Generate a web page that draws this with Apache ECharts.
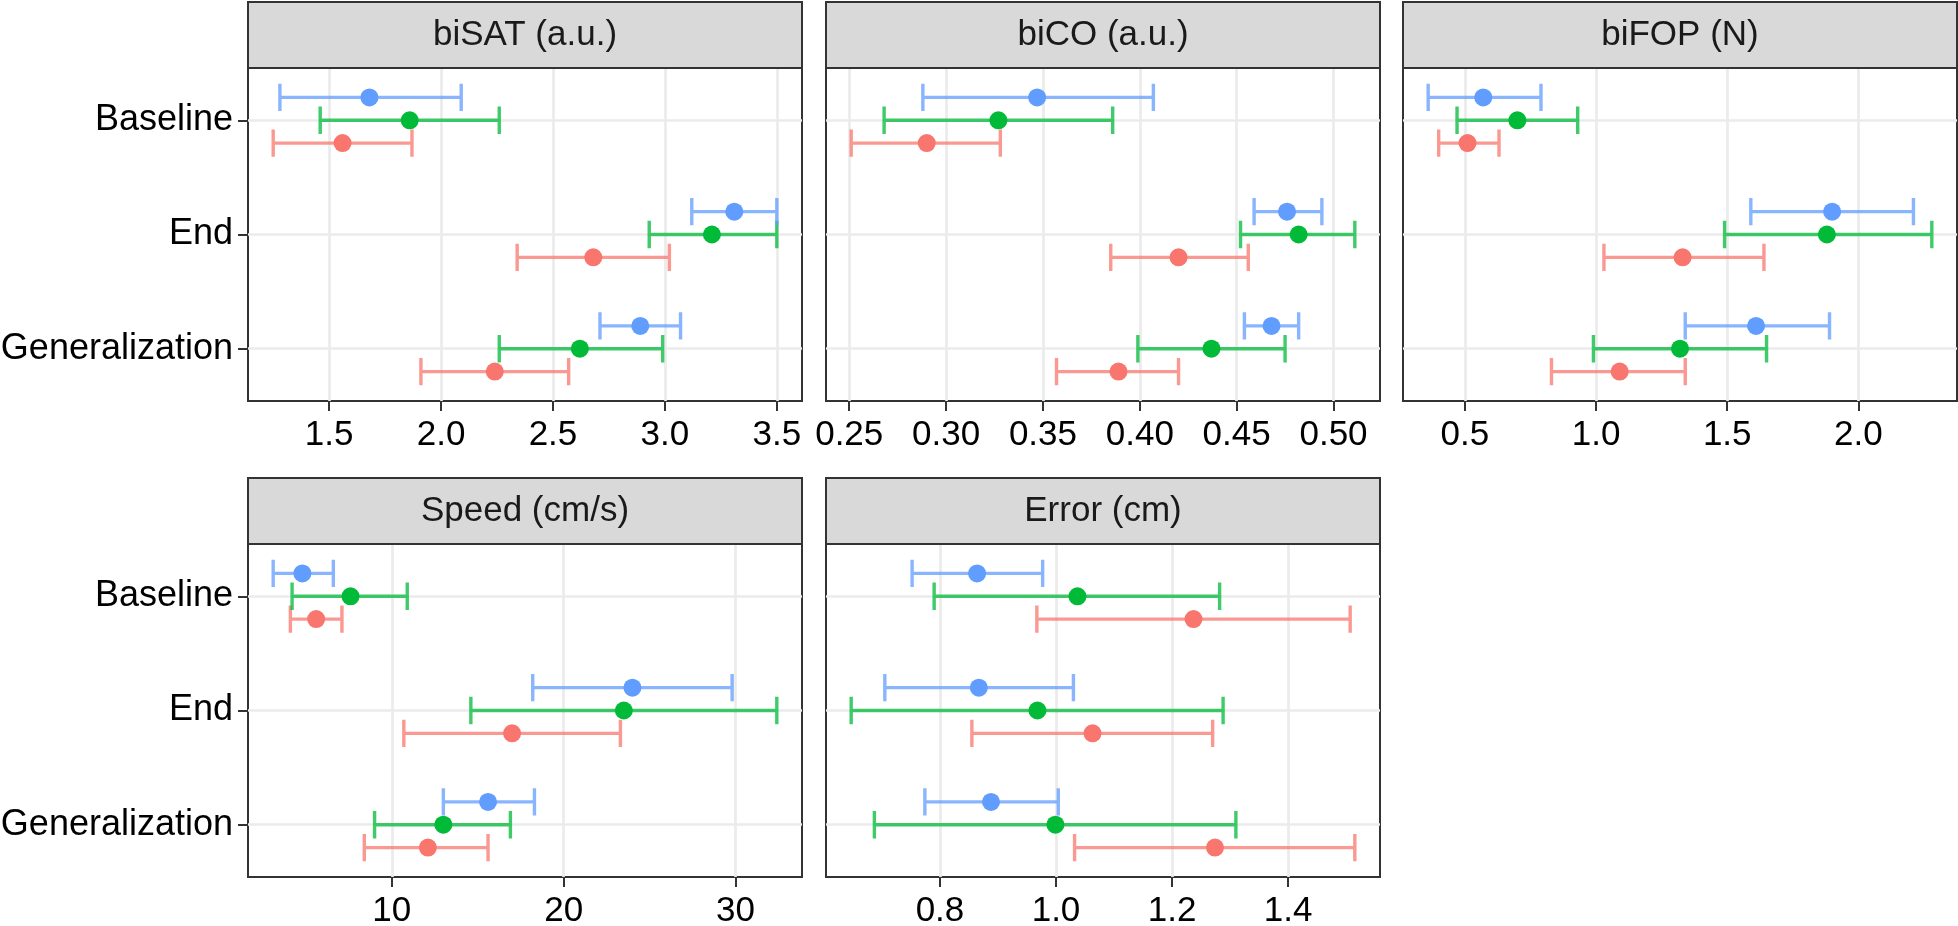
<!DOCTYPE html>
<html><head><meta charset="utf-8">
<script src="https://cdn.jsdelivr.net/npm/echarts@6/dist/echarts.min.js"></script>
<style>html,body{margin:0;padding:0;background:#fff}#c{width:1958px;height:926px}</style>
</head><body><div id="c"></div>
<script>
// ---------------- DATA ----------------
const categories = ['Baseline', 'End', 'Generalization'];
const panelTitles = ['biSAT (a.u.)', 'biCO (a.u.)', 'biFOP (N)', 'Speed (cm/s)', 'Error (cm)'];
const groupNames = ['Group 1', 'Group 2', 'Group 3'];

// each row: [lower, mean, upper] for Baseline, End, Generalization
const biSAT_red   = [[1.25, 1.56, 1.87], [2.34, 2.68, 3.02], [1.91, 2.24, 2.57]];
const biSAT_green = [[1.46, 1.86, 2.26], [2.93, 3.21, 3.50], [2.26, 2.62, 2.99]];
const biSAT_blue  = [[1.28, 1.68, 2.09], [3.12, 3.31, 3.50], [2.71, 2.89, 3.07]];

const biCO_red   = [[0.251, 0.290, 0.328], [0.385, 0.420, 0.456], [0.357, 0.389, 0.420]];
const biCO_green = [[0.268, 0.327, 0.386], [0.452, 0.482, 0.511], [0.399, 0.437, 0.475]];
const biCO_blue  = [[0.288, 0.347, 0.407], [0.459, 0.476, 0.494], [0.454, 0.468, 0.482]];

const biFOP_red   = [[0.40, 0.51, 0.63], [1.03, 1.33, 1.64], [0.83, 1.09, 1.34]];
const biFOP_green = [[0.47, 0.70, 0.93], [1.49, 1.88, 2.28], [0.99, 1.32, 1.65]];
const biFOP_blue  = [[0.36, 0.57, 0.79], [1.59, 1.90, 2.21], [1.34, 1.61, 1.89]];

const speed_red   = [[4.1, 5.6, 7.1], [10.7, 17.0, 23.3], [8.4, 12.1, 15.6]];
const speed_green = [[4.2, 7.6, 10.9], [14.6, 23.5, 32.4], [9.0, 13.0, 16.9]];
const speed_blue  = [[3.1, 4.8, 6.6], [18.2, 24.0, 29.8], [13.0, 15.6, 18.3]];

const error_red   = [[0.967, 1.237, 1.507], [0.855, 1.063, 1.270], [1.032, 1.274, 1.515]];
const error_green = [[0.790, 1.037, 1.282], [0.647, 0.968, 1.288], [0.687, 0.999, 1.310]];
const error_blue  = [[0.752, 0.864, 0.977], [0.705, 0.867, 1.030], [0.774, 0.888, 1.004]];

// tick values and labels
const biSAT_ticks = [1.5, 2.0, 2.5, 3.0, 3.5];
const biSAT_tickLabels = ['1.5', '2.0', '2.5', '3.0', '3.5'];
const biCO_ticks = [0.25, 0.30, 0.35, 0.40, 0.45, 0.50];
const biCO_tickLabels = ['0.25', '0.30', '0.35', '0.40', '0.45', '0.50'];
const biFOP_ticks = [0.5, 1.0, 1.5, 2.0];
const biFOP_tickLabels = ['0.5', '1.0', '1.5', '2.0'];
const speed_ticks = [10, 20, 30];
const speed_tickLabels = ['10', '20', '30'];
const error_ticks = [0.8, 1.0, 1.2, 1.4];
const error_tickLabels = ['0.8', '1.0', '1.2', '1.4'];

// ---------------- STYLE / LAYOUT ----------------
const FONT = '"Liberation Sans", Arial, Helvetica, sans-serif';
const groupColors = ['#F8766D', '#00BA38', '#619CFF'];
const groupOffsets = [0.2, 0, -0.2];     // dodge (category units)
const CAP_HALF = 0.12;                    // errorbar cap half height (category units)
const PW = 554, PH = 333, STRIP_H = 66;
const layout = [
  {left: 248, top: 68, yLabels: true},
  {left: 826, top: 68, yLabels: false},
  {left: 1403, top: 68, yLabels: false},
  {left: 248, top: 544, yLabels: true},
  {left: 826, top: 544, yLabels: false}
];
const panels = [
  {groups: [biSAT_red, biSAT_green, biSAT_blue], ticks: biSAT_ticks, labels: biSAT_tickLabels},
  {groups: [biCO_red, biCO_green, biCO_blue], ticks: biCO_ticks, labels: biCO_tickLabels},
  {groups: [biFOP_red, biFOP_green, biFOP_blue], ticks: biFOP_ticks, labels: biFOP_tickLabels},
  {groups: [speed_red, speed_green, speed_blue], ticks: speed_ticks, labels: speed_tickLabels},
  {groups: [error_red, error_green, error_blue], ticks: error_ticks, labels: error_tickLabels}
];

// y: categories at 1..3, range = dodged errorbar extent with 5% expansion (ggplot style)
const catPos = categories.map((c, i) => i + 1);
const yLo = 1 - 0.2 - 0.125, yHi = categories.length + 0.2 + 0.125;
const Y_MIN = yLo - 0.05 * (yHi - yLo), Y_MAX = yHi + 0.05 * (yHi - yLo);

function makeRender(gi) {
  return function (params, api) {
    const yv = api.value(0) + groupOffsets[gi];
    const pL = api.coord([api.value(1), yv]);
    const pM = api.coord([api.value(2), yv]);
    const pH = api.coord([api.value(3), yv]);
    const ch = Math.abs(api.size([0, CAP_HALF])[1]);
    const d = 'M' + pL[0] + ' ' + (pL[1] - ch) + 'L' + pL[0] + ' ' + (pL[1] + ch) +
              'M' + pL[0] + ' ' + pL[1] + 'L' + pH[0] + ' ' + pH[1] +
              'M' + pH[0] + ' ' + (pH[1] - ch) + 'L' + pH[0] + ' ' + (pH[1] + ch);
    return {
      type: 'group',
      children: [
        {type: 'path', shape: {pathData: d}, style: {stroke: groupColors[gi], lineWidth: 3.4, fill: null, opacity: 0.75}},
        {type: 'circle', shape: {cx: pM[0], cy: pM[1], r: 9}, style: {fill: groupColors[gi]}}
      ]
    };
  };
}

const grids = [], xAxes = [], yAxes = [], series = [], graphics = [];
panels.forEach((p, k) => {
  const L = layout[k];
  grids.push({left: L.left, top: L.top, width: PW, height: PH, show: true,
    borderColor: '#333333', borderWidth: 2, backgroundColor: 'rgba(0,0,0,0)', outerBoundsMode: 'none', containLabel: false});
  let mn = Infinity, mx = -Infinity;
  p.groups.forEach(g => g.forEach(r => { mn = Math.min(mn, r[0]); mx = Math.max(mx, r[2]); }));
  const ex = 0.05 * (mx - mn);
  xAxes.push({
    type: 'value', gridIndex: k, min: mn - ex, max: mx + ex,
    axisLine: {show: false},
    axisTick: {show: true, length: 10, lineStyle: {color: '#333333', width: 2}, customValues: p.ticks},
    axisLabel: {show: true, customValues: p.ticks, margin: 17, fontSize: 35, fontFamily: FONT, color: '#000',
      formatter: v => { const i = p.ticks.findIndex(t => Math.abs(t - v) < 1e-9); return i >= 0 ? p.labels[i] : ''; }},
    splitLine: {show: true, lineStyle: {color: '#EBEBEB', width: 2.7}},
    minorSplitLine: {show: false}
  });
  yAxes.push({
    type: 'value', gridIndex: k, inverse: true, min: Y_MIN, max: Y_MAX,
    axisLine: {show: false},
    axisTick: {show: L.yLabels, length: 10, lineStyle: {color: '#333333', width: 2}, customValues: catPos},
    axisLabel: {show: L.yLabels, customValues: catPos, margin: 15, fontSize: 36, fontFamily: FONT, color: '#000',
      formatter: v => categories[Math.round(v) - 1] || ''},
    splitLine: {show: true, lineStyle: {color: '#EBEBEB', width: 2.7}}
  });
  p.groups.forEach((g, gi) => {
    series.push({
      type: 'custom', name: groupNames[gi], xAxisIndex: k, yAxisIndex: k,
      renderItem: makeRender(gi),
      encode: {x: [1, 2, 3], y: 0},
      data: g.map((r, i) => [catPos[i], r[0], r[1], r[2]]),
      silent: true, animation: false, clip: false, z: 3
    });
  });
  graphics.push({
    type: 'rect', shape: {x: L.left, y: L.top - STRIP_H, width: PW, height: STRIP_H},
    style: {fill: '#D9D9D9', stroke: '#333333', lineWidth: 2}, z: 10
  });
  graphics.push({
    type: 'text', x: L.left + PW / 2, y: L.top - STRIP_H / 2, z: 11,
    style: {text: panelTitles[k], font: '35px ' + FONT, fill: '#1A1A1A', textAlign: 'center', textVerticalAlign: 'middle'}
  });
});

const chart = echarts.init(document.getElementById('c'), null, {renderer: 'canvas', width: 1958, height: 926});
chart.setOption({
  backgroundColor: '#ffffff',
  animation: false,
  legend: {show: false},
  tooltip: {show: false},
  grid: grids, xAxis: xAxes, yAxis: yAxes, series: series,
  graphic: graphics
});
</script></body></html>
